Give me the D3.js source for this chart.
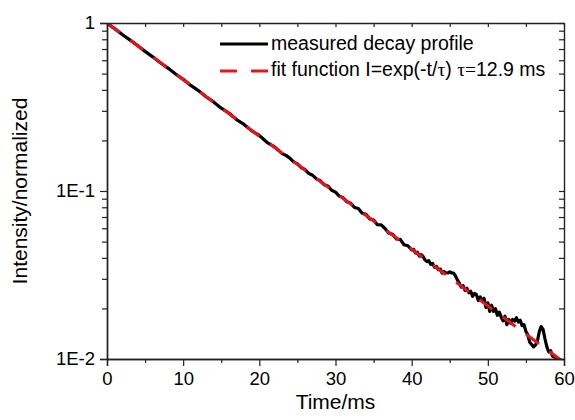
<!DOCTYPE html>
<html>
<head>
<meta charset="utf-8">
<script src="https://cdn.jsdelivr.net/npm/d3@7"></script>
<style>
  body { margin: 0; background: #fff; }
  text { font-family: "Liberation Sans", Arial, sans-serif; fill: #000; }
</style>
</head>
<body>
<div id="chart"></div>
<script>
// Data
const measuredT = [0, 1, 2, 3, 4, 5, 6, 7, 8, 9, 10, 11, 12, 13, 14, 15, 16, 17, 18, 19, 20, 21, 22, 23, 23.5,
  24, 24.5, 25, 25.5, 26, 26.5, 27, 27.5, 28, 28.5, 29, 29.5, 30, 30.5, 31, 31.5, 32, 32.5, 33, 33.5, 34, 34.5,
  35, 35.5, 36, 36.5, 37, 37.5, 38, 38.5, 39, 39.5,
  40, 40.25, 40.5, 40.75, 41, 41.25, 41.5, 41.75, 42, 42.25, 42.5, 42.75, 43, 43.25, 43.5, 43.75,
  44, 44.25, 44.5, 44.75, 45, 45.25, 45.5, 45.75, 46, 46.25, 46.5, 46.75, 47, 47.25, 47.5, 47.75,
  48, 48.25, 48.5, 48.75, 49, 49.25, 49.5, 49.75, 50, 50.25, 50.5, 50.75, 51, 51.25, 51.5, 51.75,
  52, 52.25, 52.5, 52.75, 53, 53.25, 53.5, 53.75, 54, 54.25, 54.5, 54.75, 55, 55.25, 55.5, 55.75,
  56, 56.25, 56.5, 56.75, 57, 57.25, 57.5, 57.75, 58, 58.25, 58.5, 58.75, 59, 59.25];
const measuredI = [1.000, 0.926, 0.855, 0.793, 0.734, 0.678, 0.629, 0.580, 0.539, 0.497, 0.462, 0.425, 0.396,
  0.364, 0.339, 0.311, 0.291, 0.266, 0.249, 0.228, 0.214, 0.195, 0.183, 0.167, 0.163,
  0.157, 0.149, 0.145, 0.138, 0.134, 0.127, 0.124, 0.118, 0.115, 0.109, 0.107, 0.101, 0.0985, 0.0932, 0.0912,
  0.0862, 0.0845, 0.0798, 0.0786, 0.0738, 0.0726, 0.0682, 0.0672, 0.0630, 0.0628, 0.0598, 0.0561, 0.0553,
  0.0518, 0.0515, 0.0479, 0.0472,
  0.0446, 0.0450, 0.0428, 0.0432, 0.0410, 0.0418, 0.0408, 0.0389, 0.0380, 0.0385, 0.0366, 0.0371,
  0.0352, 0.0356, 0.0340, 0.0343,
  0.0325, 0.0331, 0.0326, 0.0325, 0.0330, 0.0325, 0.0325, 0.0312, 0.0296, 0.0283, 0.0268, 0.0273,
  0.0256, 0.0264, 0.0248, 0.0253,
  0.0236, 0.0246, 0.0242, 0.0223, 0.0234, 0.0222, 0.0230, 0.0203, 0.0216, 0.0192, 0.0209, 0.0192,
  0.0199, 0.0182, 0.0190, 0.0178,
  0.0169, 0.0180, 0.0160, 0.0172, 0.0163, 0.0172, 0.0168, 0.0176, 0.0166, 0.0170, 0.0158, 0.0160,
  0.0146, 0.0139, 0.0126, 0.0122,
  0.0118, 0.0121, 0.0127, 0.0145, 0.0156, 0.0150, 0.0132, 0.0118, 0.0110, 0.0112, 0.0104, 0.0103,
  0.0099, 0.0098];

// Fit I = exp(-t/12.9), values at 10 ms steps
const fitT = [0, 10, 20, 30, 40, 50, 60];
const fitI = [1, 0.461, 0.212, 0.0977, 0.0450, 0.0207, 0.00955];

const xTicks = [0, 10, 20, 30, 40, 50, 60];
const xMinorTicks = [5, 15, 25, 35, 45, 55];
const yTicks = [1, 0.1, 0.01];
const yTickLabels = ["1", "1E-1", "1E-2"];
const yMinorTicks = [0.02, 0.03, 0.04, 0.05, 0.06, 0.07, 0.08, 0.09,
                     0.2, 0.3, 0.4, 0.5, 0.6, 0.7, 0.8, 0.9];

const W = 575, H = 420;
const margin = { top: 23, right: 11, bottom: 61, left: 107 };
const width = W - margin.left - margin.right,
      height = H - margin.top - margin.bottom;

const svg = d3.select("#chart").append("svg")
    .attr("width", W).attr("height", H);
const g = svg.append("g")
    .attr("transform", `translate(${margin.left},${margin.top})`);

const x = d3.scaleLinear().domain([0, 60]).range([0, width]);
const y = d3.scaleLog().domain([0.01, 1]).range([height, 0]);

g.append("clipPath").attr("id", "clip")
  .append("rect").attr("width", width).attr("height", height);

// Lines
const measured = measuredT.map((t, i) => ({ t, v: measuredI[i] }));
const fit = fitT.map((t, i) => ({ t, v: fitI[i] }));
const line = d3.line().x(d => x(d.t)).y(d => y(d.v));

g.append("path").datum(measured)
    .attr("clip-path", "url(#clip)")
    .attr("d", line)
    .attr("fill", "none")
    .attr("stroke", "#000")
    .attr("stroke-width", 3.2)
    .attr("stroke-linejoin", "round");

g.append("path").datum(fit)
    .attr("clip-path", "url(#clip)")
    .attr("d", line)
    .attr("fill", "none")
    .attr("stroke", "#e8141c")
    .attr("stroke-width", 3)
    .attr("stroke-dasharray", "16,13");

// Axes
function styleAxis(sel) {
  sel.selectAll(".domain").attr("stroke", "#222").attr("stroke-width", 1.4);
  sel.selectAll(".tick line").attr("stroke", "#222").attr("stroke-width", 1.2);
  sel.selectAll("text").style("font-size", "18.5px").attr("fill", "#000");
}

g.append("g").attr("transform", `translate(0,${height})`)
    .call(d3.axisBottom(x).tickValues(xTicks).tickSize(7).tickPadding(6).tickFormat(d3.format("d")))
    .call(styleAxis);
g.append("g").attr("transform", `translate(0,${height})`)
    .call(d3.axisBottom(x).tickValues(xMinorTicks).tickSize(4).tickSizeOuter(0).tickFormat(""))
    .call(styleAxis);

g.append("g")
    .call(d3.axisLeft(y).tickValues(yTicks).tickSize(7).tickPadding(5)
      .tickFormat((d, i) => yTickLabels[i]))
    .call(styleAxis);
g.append("g")
    .call(d3.axisLeft(y).tickValues(yMinorTicks).tickSize(5).tickSizeOuter(0).tickFormat(""))
    .call(styleAxis);

// top & right (inward ticks)
g.append("g")
    .call(d3.axisTop(x).tickValues(xTicks.concat(xMinorTicks)).tickSize(-4).tickSizeOuter(0).tickFormat(""))
    .call(styleAxis);
g.append("g").attr("transform", `translate(${width},0)`)
    .call(d3.axisRight(y).tickValues(yTicks.concat(yMinorTicks)).tickSize(-5).tickSizeOuter(0).tickFormat(""))
    .call(styleAxis);

// Axis titles
svg.append("text")
    .attr("x", margin.left + width / 2).attr("y", 409)
    .attr("text-anchor", "middle")
    .style("font-size", "21px")
    .text("Time/ms");
svg.append("text")
    .attr("transform", `translate(27,${margin.top + height / 2}) rotate(-90)`)
    .attr("text-anchor", "middle")
    .style("font-size", "21px")
    .text("Intensity/normalized");

// Legend
const legend = svg.append("g");
legend.append("line")
    .attr("x1", 220).attr("x2", 268).attr("y1", 44).attr("y2", 44)
    .attr("stroke", "#000").attr("stroke-width", 3);
legend.append("text").attr("x", 271).attr("y", 50)
    .style("font-size", "19.5px").text("measured decay profile");
legend.append("line")
    .attr("x1", 220).attr("x2", 268).attr("y1", 71).attr("y2", 71)
    .attr("stroke", "#e8141c").attr("stroke-width", 3)
    .attr("stroke-dasharray", "17,14");
const t2 = legend.append("text").attr("x", 271).attr("y", 76).style("font-size", "19.5px");
t2.append("tspan").text("fit function I=exp(-t/");
t2.append("tspan").style("font-family", "'Liberation Serif', serif").text("τ");
t2.append("tspan").text(") ");
t2.append("tspan").style("font-family", "'Liberation Serif', serif").text("τ=");
t2.append("tspan").text("12.9 ms");
</script>
</body>
</html>
